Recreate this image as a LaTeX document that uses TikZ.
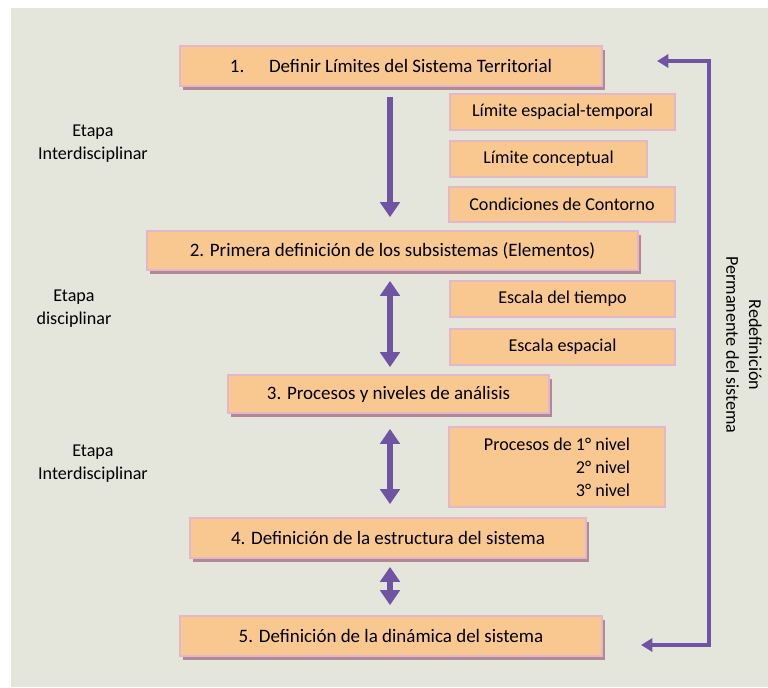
\documentclass[tikz,border=0pt]{standalone}
\usepackage{fontspec}
\setmainfont{Carlito}
\usetikzlibrary{arrows.meta,shadows}

\definecolor{fondo}{RGB}{228,230,220}
\definecolor{relleno}{RGB}{248,200,144}
\definecolor{borde}{RGB}{226,184,200}
\definecolor{sombra}{RGB}{176,136,150}
\definecolor{morado}{RGB}{112,84,164}
\newcommand{\pix}{0.02cm}

\begin{document}
\begin{tikzpicture}[x=0.02cm,y=-0.02cm,
	font=\fontsize{10.3}{13}\selectfont,
	caja/.style={draw=borde, line width=1pt, fill=relleno, inner sep=0pt, minimum height=36*\pix},
	paso/.style={caja, minimum height=40*\pix, font=\fontsize{10.8}{13}\selectfont,
		drop shadow={shadow xshift=0.05cm, shadow yshift=-0.08cm, fill=sombra, opacity=1}},
	etapa/.style={align=center},
	flecha/.style={draw=morado, line width=3pt, -{Triangle[width=11pt,length=8.5pt]}},
	doble/.style={flecha, {Triangle[width=11pt,length=8.5pt]}-{Triangle[width=11pt,length=8.5pt]}},
	retro/.style={draw=morado, line width=1.8pt, {Triangle[width=7.5pt,length=6.5pt]}-{Triangle[width=7.5pt,length=6.5pt]}}]

\useasboundingbox (0,0) rectangle (768,687);
\fill[fondo] (11,8) rectangle (768,687);

% pasos principales
\path (391,66) node[paso, minimum width=422*\pix] (b1) {1.\hspace{1.3em}Definir Límites del Sistema Territorial};
\path (392.5,250.5) node[paso, minimum width=491*\pix, minimum height=39*\pix] (b2) {2. Primera definición de los subsistemas (Elementos)};
\path (388.5,394) node[paso, minimum width=321*\pix, minimum height=38*\pix] (b3) {3. Procesos y niveles de análisis};
\path (388,538) node[paso, minimum width=396*\pix] (b4) {4. Definición de la estructura del sistema};
\path (391,636) node[paso, minimum width=422*\pix] (b5) {5. Definición de la dinámica del sistema};

% cajas laterales
\path (562.5,112) node[caja, minimum width=225*\pix] (lim1) {Límite espacial-temporal};
\path (548.5,159) node[caja, minimum width=197*\pix] (lim2) {Límite conceptual};
\path (562,204.5) node[caja, minimum width=226*\pix, minimum height=35*\pix] (cont) {Condiciones de Contorno};
\path (562.5,299) node[caja, minimum width=225*\pix] (esc1) {Escala del tiempo};
\path (562.5,347) node[caja, minimum width=225*\pix] (esc2) {Escala espacial};
\path (557,467) node[caja, minimum width=216*\pix, minimum height=80*\pix, align=right] (proc) {Procesos de 1° nivel\\2° nivel\\3° nivel};

% etapas
\path (93,143.5) node[etapa] (et1) {Etapa\\Interdisciplinar};
\path (74,308.5) node[etapa] (et2) {Etapa\\disciplinar};
\path (93,463.5) node[etapa] (et3) {Etapa\\Interdisciplinar};

% flechas
\coordinate (eje) at (390,0);
\draw[flecha, shorten <=0.2cm, shorten >=0.26cm] (b1.south -| eje) -- (b2.north -| eje);
\draw[doble, shorten <=0.2cm, shorten >=0.14cm] (b2.south -| eje) -- (b3.north -| eje);
\draw[doble, shorten <=0.3cm, shorten >=0.26cm] (b3.south -| eje) -- (b4.north -| eje);
\draw[doble, shorten <=0.16cm, shorten >=0.2cm] (b4.south -| eje) -- (b5.north -| eje);

% redefinicion
\coordinate (r1) at (657,61);
\coordinate (r5) at (641,645);
\draw[retro] (r1) -- (709,61) -- (709,645) -- (r5);
\path (744,345) node[rotate=-90, align=center] (redef) {Redefinición\\Permanente del sistema};

\end{tikzpicture}
\end{document}
